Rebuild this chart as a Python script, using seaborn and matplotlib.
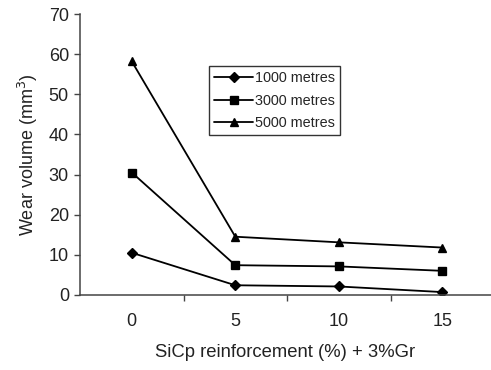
import pandas as pd
import matplotlib.pyplot as plt
import seaborn as sns
from matplotlib.ticker import FixedLocator

sns.set_theme(style="ticks")
plt.rcParams['font.family'] = ['Liberation Sans', 'DejaVu Sans']

# Dados
reforco = ['0', '5', '10', '15']
vol_1000 = [10.5, 2.4, 2.1, 0.7]
vol_3000 = [30.5, 7.4, 7.1, 6.0]
vol_5000 = [58.2, 14.5, 13.1, 11.8]
series = ['1000 metres', '3000 metres', '5000 metres']

dados = pd.DataFrame({
    'SiCp': reforco * 3,
    'Volume': vol_1000 + vol_3000 + vol_5000,
    'Distancia': [s for s in series for _ in reforco],
})

fig = plt.figure(figsize=(4.91, 3.70), dpi=100)
ax = fig.add_axes([0.163, 0.203, 0.837, 0.759])

sns.pointplot(data=dados, x='SiCp', y='Volume', hue='Distancia',
              order=reforco, hue_order=series,
              palette=['black'] * 3, markers=['D', 's', '^'],
              linestyles=['-'] * 3, ax=ax,
              markersize=6, linewidth=1.3)

# losango um pouco menor, como no original
for linha in ax.lines:
    if linha.get_marker() == 'D':
        linha.set_markersize(5)

ax.set_xlim(-0.5, 3.47)
ax.set_ylim(0, 70)
ax.set_yticks(range(0, 71, 10))
ax.tick_params(axis='y', labelsize=13, length=4, width=1, color='#444444',
               pad=4, labelcolor='#222222')
ax.tick_params(axis='x', which='major', labelsize=13, length=0, pad=13,
               labelcolor='#222222')
ax.xaxis.set_minor_locator(FixedLocator([0.5, 1.5, 2.5]))
ax.tick_params(axis='x', which='minor', length=4, width=1, color='#444444')

for lado in ['top', 'right']:
    ax.spines[lado].set_visible(False)
for lado in ['left', 'bottom']:
    ax.spines[lado].set_color('#444444')
    ax.spines[lado].set_linewidth(1.1)

ax.set_xlabel('SiCp reinforcement (%) + 3%Gr', fontsize=13.3, labelpad=10,
              color='#222222')
ax.set_ylabel('Wear volume (mm$^3$)', fontsize=13, labelpad=6, color='#222222')

leg = ax.legend(loc='upper left', bbox_to_anchor=(0.314, 0.815), frameon=True,
                fontsize=10.4, handlelength=2.7, handletextpad=0.1,
                borderpad=0.35, labelspacing=0.6, fancybox=False,
                borderaxespad=0)
leg.get_frame().set_edgecolor('black')
leg.get_frame().set_linewidth(1.0)
for h in leg.legend_handles:
    if h.get_marker() == 'D':
        h.set_markersize(5)

fig.savefig('out.png', dpi=100)
